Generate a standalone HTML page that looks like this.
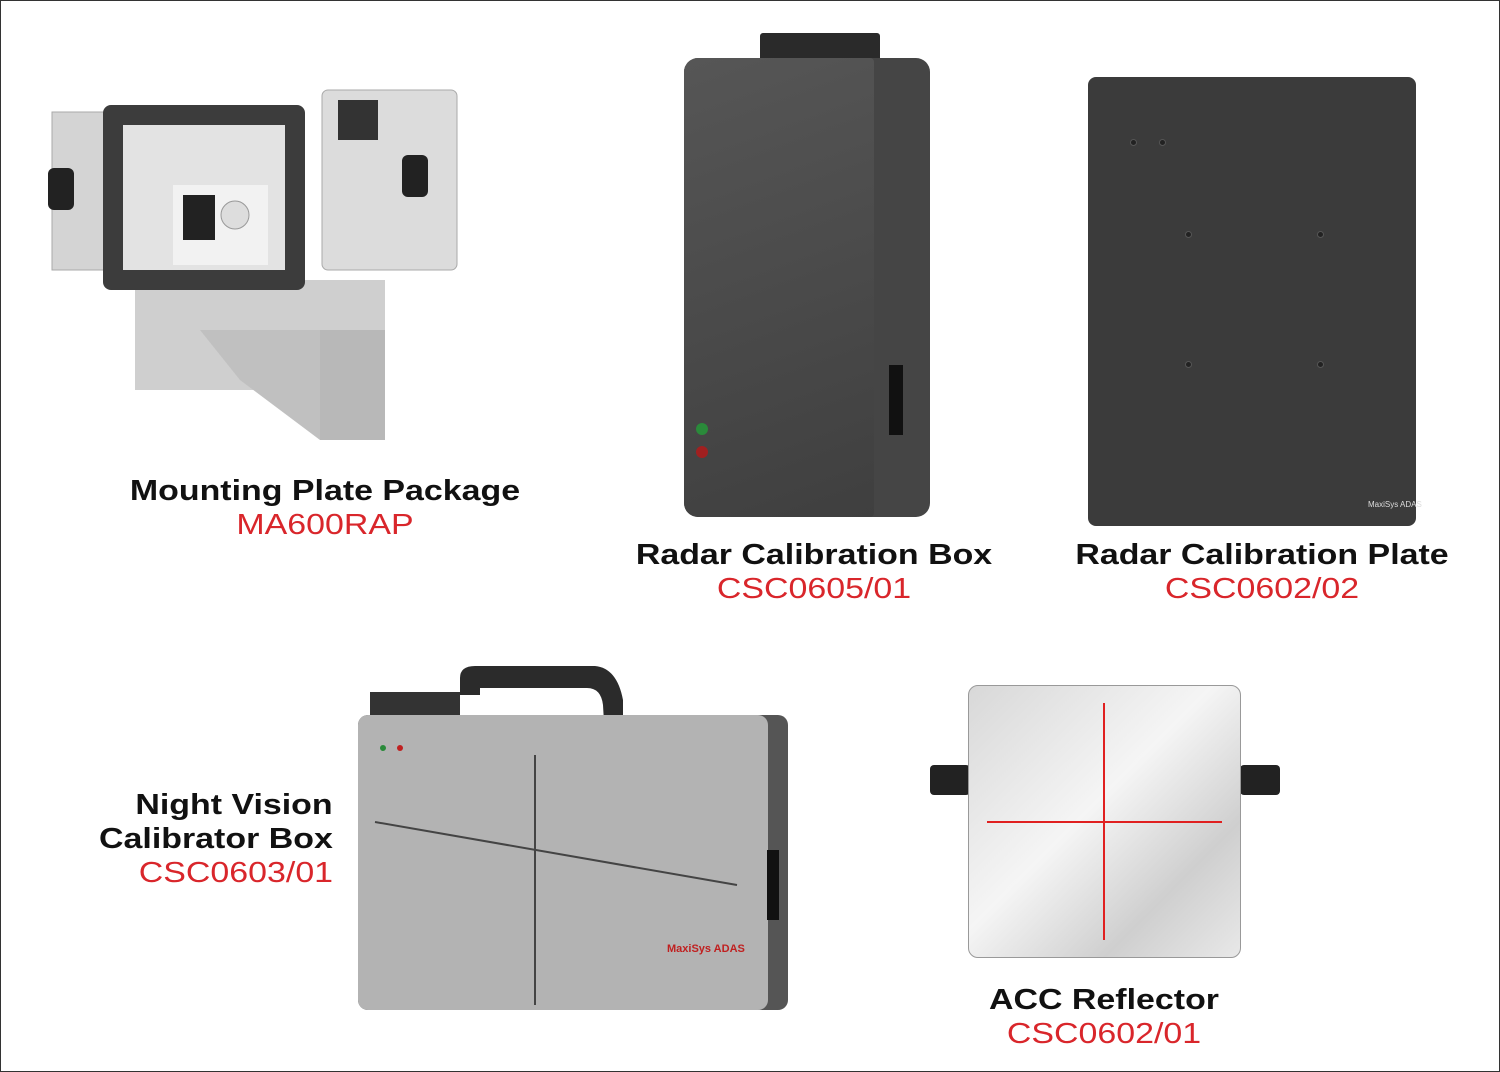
<!DOCTYPE html>
<html><head><meta charset="utf-8"><style>
*{margin:0;padding:0;box-sizing:border-box}
body{width:1500px;height:1072px;background:#fff;position:relative;overflow:hidden;font-family:"Liberation Sans",Arial,sans-serif}
.frame{position:absolute;left:0;top:0;width:1500px;height:1072px;border:1px solid #333}
.a{position:absolute}
.t{position:absolute;font-weight:bold;font-size:29px;color:#111;white-space:nowrap;line-height:34px}
.r{position:absolute;font-size:29px;color:#d9262b;white-space:nowrap;line-height:34px}
.c{transform:translateX(-50%) scaleX(1.17);text-align:center}
.rt{transform:scaleX(1.17);transform-origin:right center;text-align:right}
.dot{position:absolute;width:7px;height:7px;border-radius:50%;background:#222;border:1px solid #555}
</style></head><body>
<div class="frame"></div>

<!-- Mounting plate -->
<svg class="a" style="left:40px;top:80px" width="430" height="370">
<rect x="12" y="32" width="110" height="158" fill="#d4d4d4" stroke="#aaa"/>
<rect x="282" y="10" width="135" height="180" rx="6" fill="#dcdcdc" stroke="#aaa"/>
<rect x="95" y="200" width="250" height="110" fill="#cfcfcf"/>
<polygon points="160,250 290,250 345,310 345,360 280,360 200,300" fill="#c0c0c0"/>
<rect x="280" y="250" width="65" height="110" fill="#b8b8b8"/>
<rect x="63" y="25" width="202" height="185" rx="8" fill="#3c3c3c"/>
<rect x="83" y="45" width="162" height="145" fill="#e3e3e3"/>
<rect x="133" y="105" width="95" height="80" fill="#f2f2f2"/>
<rect x="143" y="115" width="32" height="45" fill="#222"/>
<circle cx="195" cy="135" r="14" fill="#ddd" stroke="#999"/>
<rect x="8" y="88" width="26" height="42" rx="6" fill="#222"/>
<rect x="362" y="75" width="26" height="42" rx="6" fill="#222"/>
<rect x="298" y="20" width="40" height="40" fill="#333"/>
</svg>
<div class="t c" style="left:325px;top:474px">Mounting Plate Package</div>
<div class="r c" style="left:325px;top:508px">MA600RAP</div>

<!-- Radar box -->
<div class="a" style="left:760px;top:33px;width:120px;height:32px;background:#2a2a2a;border-radius:3px"></div>
<div class="a" style="left:684px;top:58px;width:246px;height:459px;background:#454545;border-radius:14px"></div>
<div class="a" style="left:684px;top:58px;width:190px;height:459px;background:linear-gradient(160deg,#565656,#3f3f3f);border-radius:14px 4px 4px 14px"></div>
<div class="a" style="left:889px;top:365px;width:14px;height:70px;background:#111"></div>
<div class="a" style="left:696px;top:423px;width:12px;height:12px;border-radius:50%;background:#2a8a3a"></div>
<div class="a" style="left:696px;top:446px;width:12px;height:12px;border-radius:50%;background:#a02020"></div>
<div class="t c" style="left:814px;top:538px">Radar Calibration Box</div>
<div class="r c" style="left:814px;top:572px">CSC0605/01</div>

<!-- Radar plate -->
<div class="a" style="left:1088px;top:77px;width:328px;height:449px;background:#3b3b3b;border-radius:8px"></div>
<div class="dot" style="left:1130px;top:139px"></div>
<div class="dot" style="left:1159px;top:139px"></div>
<div class="dot" style="left:1185px;top:231px"></div>
<div class="dot" style="left:1317px;top:231px"></div>
<div class="dot" style="left:1185px;top:361px"></div>
<div class="dot" style="left:1317px;top:361px"></div>
<div class="a" style="left:1368px;top:500px;font-size:8px;color:#ddd">MaxiSys ADAS</div>
<div class="t c" style="left:1262px;top:538px">Radar Calibration Plate</div>
<div class="r c" style="left:1262px;top:572px">CSC0602/02</div>

<!-- Night vision -->
<svg class="a" style="left:355px;top:660px" width="440" height="355">
<path d="M105,35 L105,18 Q105,6 120,6 L240,6 Q262,8 268,40 L268,80 L250,80 L248,45 Q246,28 232,28 L125,28 L125,35 Z" fill="#2b2b2b"/>
<rect x="15" y="32" width="90" height="33" fill="#333"/>
<rect x="3" y="55" width="430" height="295" rx="10" fill="#555"/>
<rect x="3" y="55" width="410" height="295" rx="10" fill="#b3b3b3"/>
<line x1="180" y1="95" x2="180" y2="345" stroke="#444" stroke-width="2"/>
<line x1="20" y1="162" x2="382" y2="225" stroke="#444" stroke-width="2"/>
<circle cx="28" cy="88" r="3" fill="#2a8a3a"/><circle cx="45" cy="88" r="3" fill="#c02020"/>
<rect x="412" y="190" width="12" height="70" fill="#111"/>
<text x="312" y="292" font-size="11" fill="#c02020" font-weight="bold" font-family="Liberation Sans">MaxiSys ADAS</text>
</svg>
<div class="t rt" style="right:1167px;top:788px">Night Vision</div>
<div class="t rt" style="right:1167px;top:822px">Calibrator Box</div>
<div class="r rt" style="right:1167px;top:856px">CSC0603/01</div>

<!-- ACC reflector -->
<div class="a" style="left:930px;top:765px;width:40px;height:30px;background:#222;border-radius:4px"></div>
<div class="a" style="left:1240px;top:765px;width:40px;height:30px;background:#222;border-radius:4px"></div>
<div class="a" style="left:968px;top:685px;width:273px;height:273px;border-radius:10px;border:1px solid #999;background:linear-gradient(135deg,#d8d8d8,#f5f5f5 45%,#cfcfcf 75%,#e8e8e8)"></div>
<div class="a" style="left:987px;top:821px;width:235px;height:2px;background:#e02020"></div>
<div class="a" style="left:1103px;top:703px;width:2px;height:237px;background:#e02020"></div>
<div class="t c" style="left:1104px;top:983px">ACC Reflector</div>
<div class="r c" style="left:1104px;top:1017px">CSC0602/01</div>
</body></html>
